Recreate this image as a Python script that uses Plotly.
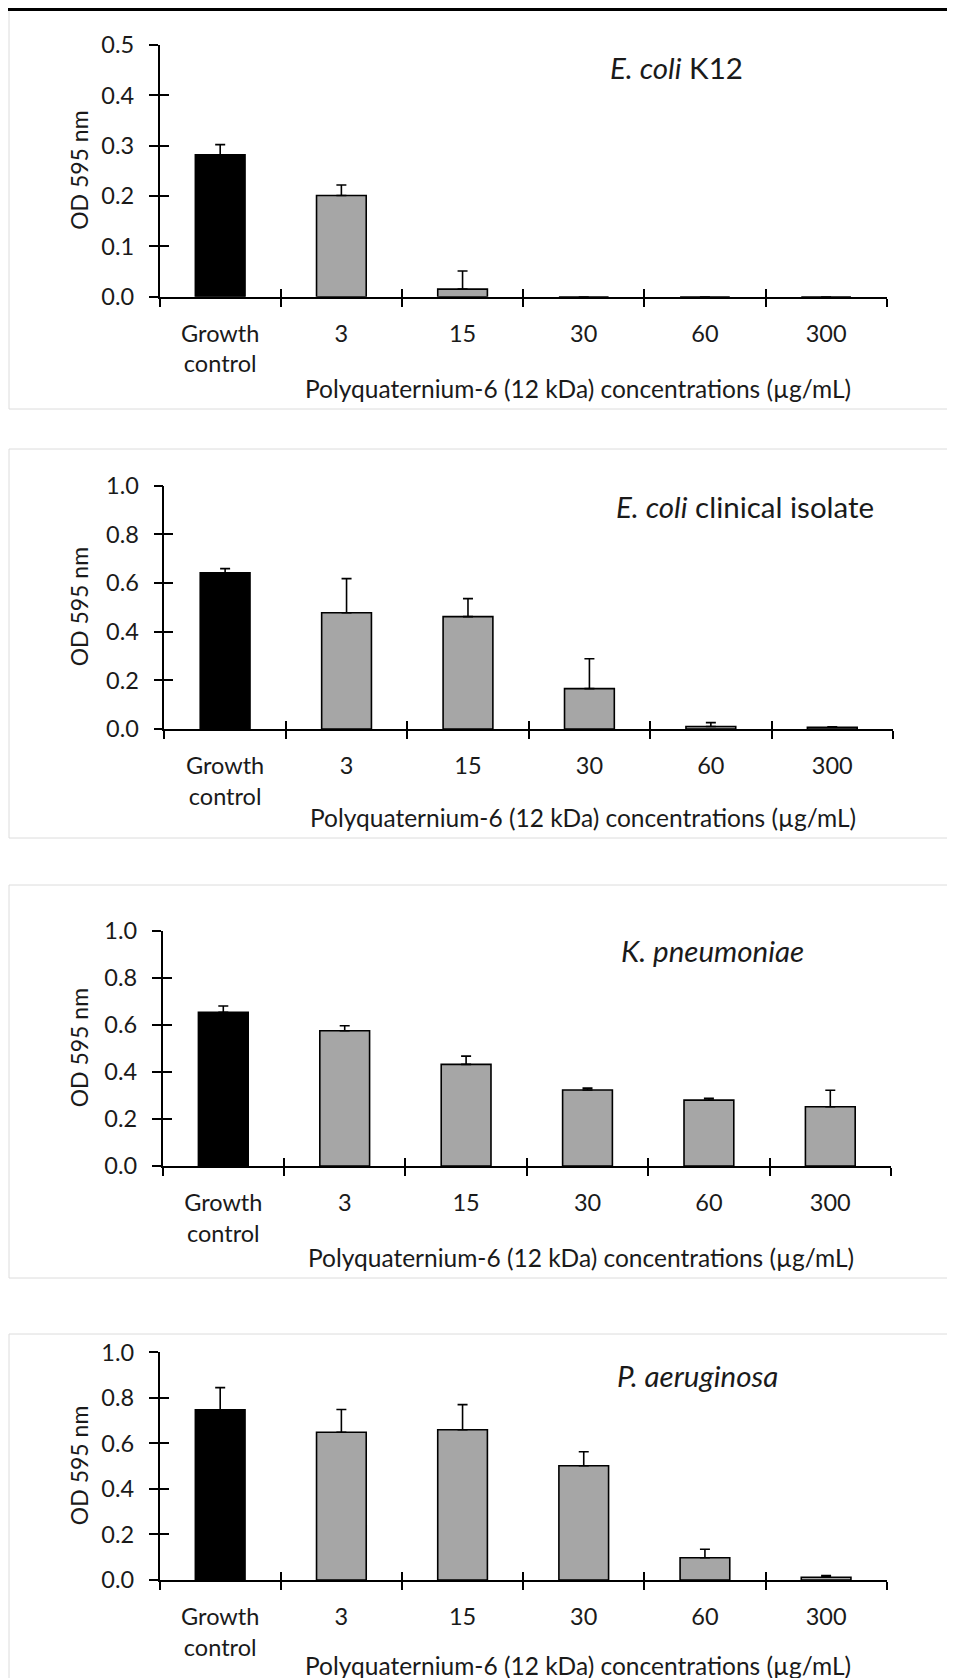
import plotly.graph_objects as go

# ---------------- data ----------------
categories = ["Growth<br>control", "3", "15", "30", "60", "300"]

k12_od = [0.282, 0.201, 0.015, 0.0, 0.0, 0.0]
k12_sd = [0.020, 0.021, 0.036, 0.0, 0.0, 0.0]

clin_od = [0.642, 0.478, 0.462, 0.166, 0.010, 0.007]
clin_sd = [0.017, 0.140, 0.074, 0.123, 0.016, 0.002]

kpn_od = [0.653, 0.575, 0.432, 0.323, 0.280, 0.252]
kpn_sd = [0.027, 0.021, 0.035, 0.008, 0.008, 0.070]

pae_od = [0.747, 0.649, 0.660, 0.502, 0.098, 0.012]
pae_sd = [0.098, 0.100, 0.110, 0.061, 0.037, 0.007]

species = ["<i>E. coli</i> K12", "<i>E. coli</i> clinical isolate",
           "<i>K. pneumoniae</i>", "<i>P. aeruginosa</i>"]
y_max = [0.5, 1.0, 1.0, 1.0]
y_step = [0.1, 0.2, 0.2, 0.2]
x_title = "Polyquaternium-6 (12 kDa) concentrations (µg/mL)"
y_title = "OD 595 nm"

bar_colors = ["#000000"] + ["#A6A6A6"] * 5
series_od = [k12_od, clin_od, kpn_od, pae_od]
series_sd = [k12_sd, clin_sd, kpn_sd, pae_sd]

# ---------------- geometry (page pixels) ----------------
W, H = 955, 1678
OFF = 8  # default page body margin around the figure
ax_left = [159.6, 164.4, 162.6, 159.6]
ax_right = [886.7, 893.0, 891.0, 886.7]
y_zero = [296.7, 729.0, 1166.0, 1580.0]
y_top = [45.0, 485.7, 930.7, 1352.3]
frame_top = [9, 449, 885, 1334]
frame_bot = [409, 838, 1278, 1720]
species_xy = [(676, 68), (745, 506), (712, 950), (697, 1375)]
xtitle_y = [388, 818, 1257, 1665]

FONT = "Lato"
TXT = "#1a1a1a"
FS_TICK = 23.5
FS_XT = 24.5
FS_YT = 23
FS_SP = 29.5

def fx(p):
    return (p - OFF) / W

def fy(p):
    return 1 - (p - OFF) / H

fig = go.Figure()
shapes = []
annotations = []
layout_axes = {}

for i in range(4):
    n = i + 1
    xa = "x" if n == 1 else f"x{n}"
    ya = "y" if n == 1 else f"y{n}"
    xo, yo = f"x{n+4}", f"y{n+4}"

    fig.add_trace(go.Bar(
        x=categories, y=series_od[i],
        marker=dict(color=bar_colors, line=dict(color="#000000", width=1.6)),
        error_y=dict(type="data", array=series_sd[i], arrayminus=[0] * 6,
                     symmetric=False, color="#000000", thickness=1.6, width=5),
        xaxis=xa, yaxis=ya, showlegend=False, hoverinfo="skip",
    ))
    # invisible trace so that overlay axes (inner tick halves) are drawn
    fig.add_trace(go.Scatter(x=[None], y=[None], xaxis=xo, yaxis=yo,
                             showlegend=False, hoverinfo="skip"))

    xdom = [fx(ax_left[i]), fx(ax_right[i])]
    ydom = [fy(y_zero[i]), fy(y_top[i])]
    nt = int(round(y_max[i] / y_step[i]))
    yticks = [round(k * y_step[i], 2) for k in range(nt + 1)]

    layout_axes[f"xaxis{'' if n == 1 else n}"] = dict(
        domain=xdom, anchor=ya, type="category", automargin=False,
        categoryorder="array", categoryarray=categories,
        range=[-0.5, 5.5], tickson="boundaries",
        ticks="outside", ticklen=8, tickwidth=1.6, tickcolor="#000",
        showline=True, linecolor="#000", linewidth=1.6,
        showgrid=False, zeroline=False, ticklabelstandoff=15,
        tickfont=dict(family=FONT, size=FS_TICK, color=TXT),
    )
    layout_axes[f"yaxis{'' if n == 1 else n}"] = dict(
        domain=ydom, anchor=xa, range=[0, y_max[i]], automargin=False,
        tickvals=yticks, tickformat=".1f",
        ticks="outside", ticklen=9, tickwidth=1.6, tickcolor="#000",
        showline=True, linecolor="#000", linewidth=1.6,
        showgrid=False, zeroline=False, ticklabelstandoff=10,
        tickfont=dict(family=FONT, size=FS_TICK, color=TXT),
    )
    # overlay axes for the inner half of the crossing tick marks
    layout_axes[f"xaxis{n+4}"] = dict(
        domain=xdom, anchor=ya, overlaying=xa, range=[-0.5, 5.5], automargin=False,
        tickvals=[k - 0.5 for k in range(7)], ticks="inside", ticklen=8,
        tickwidth=1.6, tickcolor="#000", showticklabels=False,
        showline=False, showgrid=False, zeroline=False,
    )
    layout_axes[f"yaxis{n+4}"] = dict(
        domain=ydom, anchor=xa, overlaying=ya, range=[0, y_max[i]], automargin=False,
        tickvals=yticks, ticks="inside", ticklen=9, tickwidth=1.6,
        tickcolor="#000", showticklabels=False,
        showline=False, showgrid=False, zeroline=False,
    )

    # panel frame
    shapes.append(dict(type="rect", xref="paper", yref="paper",
                       x0=fx(9), x1=fx(W + 30), y0=fy(frame_bot[i]), y1=fy(frame_top[i]),
                       line=dict(color="#DCDCDC", width=1), fillcolor="rgba(0,0,0,0)",
                       layer="below"))

    # species label
    sx, sy = species_xy[i]
    annotations.append(dict(text=species[i], xref="paper", yref="paper",
                            x=fx(sx), y=fy(sy), xanchor="center", yanchor="middle",
                            showarrow=False, font=dict(family=FONT, size=FS_SP, color=TXT)))
    # x title
    annotations.append(dict(text=x_title, xref=f"{xa} domain", yref="paper",
                            x=0.575, y=fy(xtitle_y[i]), xanchor="center", yanchor="middle",
                            showarrow=False, font=dict(family=FONT, size=FS_XT, color=TXT)))
    # y title
    annotations.append(dict(text=y_title, xref="paper", yref=f"{ya} domain",
                            x=fx(79), y=0.5, xanchor="center", yanchor="middle",
                            textangle=-90, showarrow=False,
                            font=dict(family=FONT, size=FS_YT, color=TXT)))

# black rule on top
shapes.append(dict(type="line", xref="paper", yref="paper", x0=-0.02, x1=1.02,
                   y0=fy(9.4), y1=fy(9.4), line=dict(color="#000", width=3)))

fig.update_layout(
    width=W, height=H, margin=dict(l=0, r=0, t=0, b=0, autoexpand=False),
    paper_bgcolor="white", plot_bgcolor="rgba(0,0,0,0)",
    bargap=0.59, shapes=shapes, annotations=annotations,
    **layout_axes,
)

fig.write_html("out.html")
